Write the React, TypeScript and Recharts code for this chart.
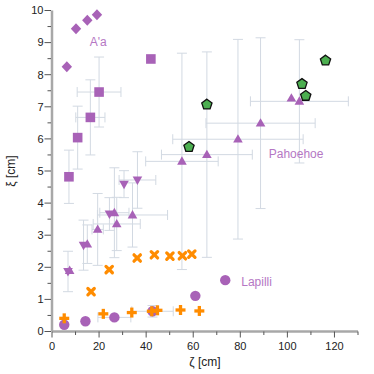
import React from 'react';
import { ScatterChart, Scatter, XAxis, YAxis, ErrorBar, Label } from 'recharts';

const FONT = '"Liberation Sans", Arial, sans-serif';
const PURPLE = '#a862b7';
const PURPLE_TEXT = '#b577c4';
const ORANGE = '#ff8c00';
const GREEN = '#4caf50';
const ERR = '#d2d9e2';

// axis ticks (majors get labels)
const xTicks = [0, 10, 20, 30, 40, 50, 60, 70, 80, 90, 100, 110, 120, 130];
const yTicks = [0, 0.5, 1, 1.5, 2, 2.5, 3, 3.5, 4, 4.5, 5, 5.5, 6, 6.5, 7, 7.5, 8, 8.5, 9, 9.5, 10];

// A'a
const aaDiamonds = [
  { x: 6.3, y: 8.25 },
  { x: 10.2, y: 9.43 },
  { x: 15.0, y: 9.7 },
  { x: 19.1, y: 9.87 },
];
const aaSquares = [
  { x: 7.2, y: 4.82, ey: 0.83 },
  { x: 10.9, y: 6.04, ey: 0.98 },
  { x: 16.3, y: 6.67, ex: 6.2, ey: 1.17 },
  { x: 20.0, y: 7.46, ex: 9.3, ey: 1.09 },
  { x: 42.0, y: 8.49 },
];

// Pahoehoe
const pahUp = [
  { x: 55.2, y: 5.3, ex: 15.4, ey: 3.37 },
  { x: 65.8, y: 5.51, ex: 19.3, ey: 3.2 },
  { x: 79.0, y: 5.99, ex: 27.7, ey: 3.11 },
  { x: 88.6, y: 6.49, ex: 23.2, ey: 2.66 },
  { x: 101.7, y: 7.27 },
  { x: 105.1, y: 7.17, ex: 20.8, ey: 1.92 },
  { x: 7.5, y: 1.9 },
  { x: 15.0, y: 2.72, ey: 0.6 },
  { x: 19.4, y: 3.18, ex: 2.4, ey: 1.12 },
  { x: 26.5, y: 3.7, ex: 6.2, ey: 1.4 },
  { x: 27.5, y: 3.35, ex: 10, ey: 0.83 },
  { x: 34.2, y: 3.63, ex: 14.9, ey: 1.0 },
];
const pahDown = [
  { x: 6.8, y: 1.87, ey: 0.63 },
  { x: 13.4, y: 2.69, ey: 0.78 },
  { x: 24.4, y: 3.66, ey: 0.51 },
  { x: 30.6, y: 4.59, ey: 0.42 },
  { x: 36.3, y: 4.72, ex: 7.8, ey: 0.88 },
];

// Lapilli
const lapilli = [
  { x: 5.2, y: 0.21 },
  { x: 14.2, y: 0.32 },
  { x: 26.5, y: 0.44, ex: 7 },
  { x: 42.7, y: 0.63, ex: 8.8, ey: 0.18 },
  { x: 60.9, y: 1.11 },
  { x: 73.6, y: 1.6 },
];

// orange series
const orangeX = [
  { x: 16.6, y: 1.24 },
  { x: 24.3, y: 1.93 },
  { x: 36.2, y: 2.29 },
  { x: 43.5, y: 2.39 },
  { x: 50.1, y: 2.35 },
  { x: 55.4, y: 2.36 },
  { x: 59.4, y: 2.41 },
];
const orangePlus = [
  { x: 5.2, y: 0.41 },
  { x: 21.8, y: 0.55 },
  { x: 33.9, y: 0.59 },
  { x: 42.4, y: 0.63 },
  { x: 44.8, y: 0.66 },
  { x: 54.6, y: 0.67 },
  { x: 62.6, y: 0.64 },
];

// green pentagons
const pentagons = [
  { x: 58.2, y: 5.75 },
  { x: 65.8, y: 7.07 },
  { x: 106.2, y: 7.71 },
  { x: 107.8, y: 7.34 },
  { x: 116.2, y: 8.44 },
];

const labels = [
  { x: 19.6, y: 9.03, text: "A'a" },
  { x: 103.7, y: 5.53, text: 'Pahoehoe' },
  { x: 86.9, y: 1.55, text: 'Lapilli' },
];

const SquareShape = ({ cx, cy }: any) => (
  <rect x={cx - 4.8} y={cy - 4.8} width={9.6} height={9.6} fill={PURPLE} />
);
const DiamondShape = ({ cx, cy }: any) => (
  <polygon points={`${cx},${cy - 5.5} ${cx + 5.2},${cy} ${cx},${cy + 5.5} ${cx - 5.2},${cy}`} fill={PURPLE} />
);
const UpShape = ({ cx, cy }: any) => (
  <polygon points={`${cx},${cy - 5} ${cx + 4.8},${cy + 3.4} ${cx - 4.8},${cy + 3.4}`} fill={PURPLE} />
);
const DownShape = ({ cx, cy }: any) => (
  <polygon points={`${cx},${cy + 5} ${cx + 4.8},${cy - 3.4} ${cx - 4.8},${cy - 3.4}`} fill={PURPLE} />
);
const CircleShape = ({ cx, cy }: any) => <circle cx={cx} cy={cy} r={5.2} fill={PURPLE} />;
const XShape = ({ cx, cy }: any) => (
  <g stroke={ORANGE} strokeWidth={3.2} strokeLinecap="round">
    <line x1={cx - 3.2} y1={cy - 3.2} x2={cx + 3.2} y2={cy + 3.2} />
    <line x1={cx - 3.2} y1={cy + 3.2} x2={cx + 3.2} y2={cy - 3.2} />
  </g>
);
const PlusShape = ({ cx, cy }: any) => (
  <g stroke={ORANGE} strokeWidth={3.3}>
    <line x1={cx - 5} y1={cy} x2={cx + 5} y2={cy} />
    <line x1={cx} y1={cy - 5} x2={cx} y2={cy + 5} />
  </g>
);
const PentagonShape = ({ cx, cy }: any) => {
  const r = 5.4;
  const pts = [0, 1, 2, 3, 4]
    .map((i) => {
      const a = -Math.PI / 2 + (i * 2 * Math.PI) / 5;
      return `${cx + r * Math.cos(a)},${cy + r * Math.sin(a)}`;
    })
    .join(' ');
  return <polygon points={pts} fill={GREEN} stroke="#111" strokeWidth={1.3} />;
};
const TextShape = ({ cx, cy, payload }: any) => (
  <text x={cx} y={cy} dy="0.35em" textAnchor="middle" fill={PURPLE_TEXT} fontSize={12} fontFamily={FONT}>
    {payload.text}
  </text>
);

const XTick = ({ x, y, payload }: any) => {
  const major = payload.value % 20 === 0;
  return (
    <g>
      <line x1={x} y1={y} x2={x} y2={y + (major ? 6 : 3.5)} stroke="#555" strokeWidth={1} />
      {major && (
        <text x={x} y={y + 18.5} textAnchor="middle" fill="#222" fontSize={11} fontFamily={FONT}>
          {payload.value}
        </text>
      )}
    </g>
  );
};

const YTick = ({ x, y, payload }: any) => {
  const major = Number.isInteger(payload.value);
  return (
    <g>
      <line x1={x - 1} y1={y} x2={x - (major ? 7.5 : 4.5)} y2={y} stroke="#555" strokeWidth={1} />
      {major && (
        <text x={x - 8.5} y={y} dy="0.35em" textAnchor="end" fill="#222" fontSize={11} fontFamily={FONT}>
          {payload.value}
        </text>
      )}
    </g>
  );
};

const errX = <ErrorBar dataKey="ex" direction="x" width={5} stroke={ERR} strokeWidth={1} isAnimationActive={false} />;
const errY = <ErrorBar dataKey="ey" direction="y" width={5} stroke={ERR} strokeWidth={1} isAnimationActive={false} />;

export default function App() {
  return (
    <div style={{ position: 'absolute', left: 0, top: 0, width: 374, height: 374 }}>
      <ScatterChart width={374} height={374} margin={{ top: 10.5, right: 16, bottom: 2.5, left: 8 }}>
        <XAxis
          type="number"
          dataKey="x"
          domain={[0, 130]}
          ticks={xTicks}
          interval={0}
          tick={<XTick />}
          tickLine={false}
          tickSize={0}
          tickMargin={0}
          height={40}
          axisLine={{ stroke: '#a8a8a8', strokeWidth: 2.5 }}
        >
          <Label value="ζ [cm]" position="insideBottom" offset={6} fill="#222" fontSize={12} fontFamily={FONT} />
        </XAxis>
        <YAxis
          type="number"
          dataKey="y"
          domain={[0, 10]}
          ticks={yTicks}
          interval={0}
          tick={<YTick />}
          tickLine={false}
          tickSize={0}
          tickMargin={0}
          width={44}
          axisLine={{ stroke: '#a8a8a8', strokeWidth: 2.5 }}
        >
          <Label
            value="ξ [cm]"
            angle={-90}
            position="insideLeft"
            offset={3}
            fill="#222"
            fontSize={12}
            fontFamily={FONT}
            style={{ textAnchor: 'middle' }}
          />
        </YAxis>
        <XAxis xAxisId="top" orientation="top" type="number" domain={[0, 130]} height={0} tick={false} tickLine={false} axisLine={{ stroke: '#555', strokeWidth: 1 }} />
        <YAxis yAxisId="right" orientation="right" type="number" domain={[0, 10]} width={0} tick={false} tickLine={false} axisLine={{ stroke: '#999', strokeWidth: 1.5 }} />

        <Scatter data={pahUp} shape={<UpShape />} isAnimationActive={false}>
          {errX}
          {errY}
        </Scatter>
        <Scatter data={pahDown} shape={<DownShape />} isAnimationActive={false}>
          {errX}
          {errY}
        </Scatter>
        <Scatter data={aaSquares} shape={<SquareShape />} isAnimationActive={false}>
          {errX}
          {errY}
        </Scatter>
        <Scatter data={aaDiamonds} shape={<DiamondShape />} isAnimationActive={false} />
        <Scatter data={lapilli} shape={<CircleShape />} isAnimationActive={false}>
          {errX}
          {errY}
        </Scatter>
        <Scatter data={orangeX} shape={<XShape />} isAnimationActive={false} />
        <Scatter data={orangePlus} shape={<PlusShape />} isAnimationActive={false} />
        <Scatter data={pentagons} shape={<PentagonShape />} isAnimationActive={false} />
        <Scatter data={labels} shape={<TextShape />} isAnimationActive={false} />
      </ScatterChart>
    </div>
  );
}
